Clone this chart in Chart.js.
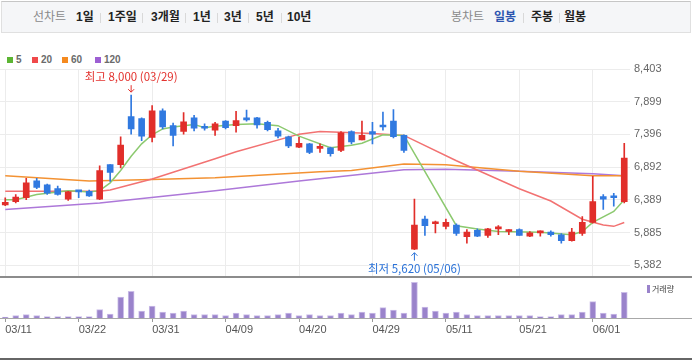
<!DOCTYPE html>
<html lang="ko">
<head>
    <meta charset="UTF-8">
    <title>일봉 차트</title>
    <style>
        body {
            margin: 0;
            width: 692px;
            height: 360px;
            position: relative;
            overflow: hidden;
            background: #fff;
            font-family: "Liberation Sans", "Noto Sans CJK KR", sans-serif;
        }

        .tabs {
            position: absolute;
            left: 1px;
            top: 1px;
            width: 688px;
            height: 30px;
            background: #f5f6f8;
            border: 1px solid #e0e0e0;
            border-top-color: #c6c6c6;
        }

        .tabs span {
            position: absolute;
            top: 7px;
            font-size: 12px;
            line-height: 16px;
            font-weight: bold;
            color: #222;
            white-space: nowrap;
        }

        .tabs span.off { color: #8a8a8a; font-weight: normal; }
        .tabs span.on { color: #2d55b0; }

        .tabs i {
            position: absolute;
            top: 11px;
            width: 1px;
            height: 10px;
            background: #d9d9d9;
        }

        .legend span {
            position: absolute;
            top: 54px;
            font-size: 10px;
            line-height: 12px;
            font-weight: bold;
            color: #6a6a6a;
        }

        .legend b {
            position: absolute;
            top: 57px;
            width: 6px;
            height: 6px;
        }

        canvas {
            position: absolute;
            left: 0;
            top: 0;
        }

        .rule { position: absolute; left: 0; width: 692px; }

        .vol-key {
            position: absolute;
            left: 647px;
            top: 285px;
            width: 3px;
            height: 8px;
            background: #9a83cb;
        }

        .vol-text {
            position: absolute;
            left: 652px;
            top: 283px;
            font-size: 8px;
            line-height: 12px;
            color: #444;
            font-family: "Noto Sans CJK KR", sans-serif;
        }
    </style>
</head>
<body>
    <div class="tabs">
        <span class="off" style="left:31px">선차트</span>
        <span style="left:74px">1일</span><i style="left:98px"></i>
        <span style="left:106px">1주일</span><i style="left:140px"></i>
        <span style="left:149px">3개월</span><i style="left:183px"></i>
        <span style="left:191px">1년</span><i style="left:215px"></i>
        <span style="left:222px">3년</span><i style="left:246px"></i>
        <span style="left:254px">5년</span><i style="left:279px"></i>
        <span style="left:285px">10년</span>
        <span class="off" style="left:449px">봉차트</span>
        <span class="on" style="left:492px">일봉</span><i style="left:521px"></i>
        <span style="left:529px">주봉</span><i style="left:557px"></i>
        <span style="left:562px">월봉</span>
    </div>

    <div class="legend">
        <b style="left:7px;background:#5cb533"></b><span style="left:16px">5</span>
        <b style="left:32px;background:#f0494a"></b><span style="left:41px">20</span>
        <b style="left:62px;background:#f58a1f"></b><span style="left:71px">60</span>
        <b style="left:95px;background:#9d5fd3"></b><span style="left:104px">120</span>
    </div>

    <canvas id="priceChart" width="692" height="360"></canvas>
    <canvas id="volumeChart" width="692" height="360"></canvas>

    <div class="rule" style="top:276px;height:2px;background:#8c8c8c"></div>
    <div class="rule" style="top:318px;height:1px;background:#a8a8a8"></div>
    <div class="rule" style="top:358px;height:2px;background:#666"></div>
    <div class="vol-key"></div>
    <div class="vol-text">거래량</div>

    <script src="https://cdn.jsdelivr.net/npm/chart.js"></script>
    <script>
        const dates = [
            '03/11', '03/12', '03/15', '03/16', '03/17', '03/18', '03/19', '03/22', '03/23', '03/24',
            '03/25', '03/26', '03/29', '03/30', '03/31', '04/01', '04/02', '04/05', '04/06', '04/07',
            '04/08', '04/09', '04/12', '04/13', '04/14', '04/15', '04/16', '04/19', '04/20', '04/21',
            '04/22', '04/23', '04/26', '04/27', '04/28', '04/29', '04/30', '05/03', '05/04', '05/06',
            '05/07', '05/10', '05/11', '05/12', '05/13', '05/14', '05/17', '05/18', '05/20', '05/21',
            '05/24', '05/25', '05/26', '05/27', '05/28', '05/31', '06/01', '06/02', '06/03', '06/04'
        ];
        const tickLabels = ['03/11', '03/22', '03/31', '04/09', '04/20', '04/29', '05/11', '05/21', '06/01'];
        const priceTicks = [8403, 7899, 7396, 6892, 6389, 5885, 5382];

        const opens = [
            6310, 6360, 6420, 6680, 6620, 6560, 6400, 6520, 6520, 6400,
            6930, 6930, 7670, 7640, 7350, 7760, 7530, 7440, 7650, 7500,
            7460, 7600, 7530, 7630, 7650, 7580, 7450, 7360, 7200, 7250,
            7180, 7190, 7150, 7440, 7310, 7440, 7520, 7600, 7380, 5630,
            6090, 6020, 5980, 6000, 5820, 5920, 5840, 5940, 5900, 5930,
            5830, 5880, 5890, 5850, 5760, 5870, 6040, 6440, 6450, 6360
        ];
        const highs = [
            6420, 6470, 6720, 6720, 6630, 6600, 6520, 6530, 6540, 6910,
            6930, 7360, 8000, 7650, 7840, 7790, 7570, 7730, 7690, 7560,
            7580, 7610, 7750, 7770, 7660, 7600, 7490, 7370, 7350, 7260,
            7250, 7200, 7440, 7450, 7600, 7580, 7740, 7780, 7390, 6400,
            6140, 6060, 6090, 6020, 5930, 5940, 5950, 5990, 5930, 5940,
            5900, 5910, 5910, 5870, 5950, 6130, 6750, 6470, 6490, 7260
        ];
        const lows = [
            6300, 6340, 6390, 6560, 6470, 6460, 6380, 6420, 6440, 6390,
            6670, 6880, 7400, 7300, 7280, 7480, 7220, 7400, 7450, 7460,
            7380, 7480, 7430, 7600, 7490, 7450, 7340, 7190, 7190, 7100,
            7120, 7060, 7130, 7250, 7310, 7250, 7460, 7340, 7120, 5620,
            5840, 5880, 5940, 5840, 5720, 5820, 5810, 5850, 5850, 5840,
            5820, 5830, 5830, 5720, 5750, 5840, 6030, 6240, 6290, 6340
        ];
        const closes = [
            6350, 6430, 6650, 6580, 6490, 6470, 6510, 6510, 6450, 6840,
            6810, 7230, 7480, 7370, 7760, 7510, 7380, 7590, 7490, 7490,
            7560, 7500, 7610, 7620, 7540, 7470, 7370, 7220, 7260, 7120,
            7190, 7100, 7420, 7280, 7380, 7400, 7510, 7360, 7150, 6000,
            5990, 6030, 6040, 5870, 5890, 5830, 5940, 5950, 5910, 5840,
            5880, 5890, 5850, 5760, 5890, 6040, 6360, 6400, 6420, 7030
        ];
        // volume in thousand shares
        const volumes = [
            30, 70, 100, 70, 40, 40, 40, 40, 40, 250,
            120, 630, 800, 210, 360, 180, 150, 210, 100, 100,
            100, 70, 150, 100, 70, 70, 100, 150, 70, 100,
            70, 70, 150, 100, 180, 150, 310, 240, 150, 1070,
            330, 210, 150, 180, 100, 70, 70, 70, 70, 70,
            70, 40, 40, 100, 100, 180, 490, 150, 120, 770
        ];

        // moving averages, read at the line's bends
        const ma5 = [
            ['03/11', 6390], ['03/12', 6390], ['03/16', 6470], ['03/17', 6490], ['03/19', 6530],
            ['03/22', 6520], ['03/23', 6510], ['03/24', 6530], ['03/25', 6650], ['03/26', 6840],
            ['03/29', 7060], ['03/30', 7250], ['03/31', 7390], ['04/01', 7480], ['04/02', 7510],
            ['04/06', 7550], ['04/07', 7500], ['04/08', 7520], ['04/12', 7550], ['04/14', 7560],
            ['04/16', 7530], ['04/20', 7370], ['04/23', 7190], ['04/27', 7230], ['04/28', 7260],
            ['04/30', 7390], ['05/04', 7380], ['05/12', 5990], ['05/14', 5940], ['05/18', 5900],
            ['05/25', 5890], ['05/28', 5850], ['05/31', 5900], ['06/01', 6040], ['06/03', 6210],
            ['06/04', 6390]
        ];
        const ma20 = [
            ['03/11', 6520], ['03/24', 6520], ['03/25', 6540], ['03/31', 6710], ['04/08', 7020],
            ['04/12', 7130], ['04/20', 7400], ['04/22', 7440], ['04/29', 7410], ['05/04', 7380],
            ['05/12', 6990], ['05/21', 6560], ['05/26', 6370], ['05/31', 6090], ['06/02', 6000],
            ['06/03', 5980], ['06/04', 6040]
        ];
        const ma60 = [
            ['03/11', 6760], ['03/23', 6680], ['03/31', 6700], ['04/08', 6730], ['04/22', 6820],
            ['04/27', 6840], ['05/04', 6940], ['05/11', 6930], ['05/21', 6830], ['06/01', 6760],
            ['06/04', 6760]
        ];
        const ma120 = [
            ['03/11', 6240], ['03/24', 6340], ['04/08', 6530], ['04/20', 6680], ['05/04', 6850],
            ['05/11', 6860], ['05/21', 6830], ['06/01', 6790], ['06/04', 6760]
        ];

        const UP = '#e12e2a';
        const DOWN = '#3079e0';
        const candleColors = opens.map((o, i) => closes[i] >= o ? UP : DOWN);
        const gridColor = '#ececec';
        const axisWidth = 62.5;

        const toPoints = list => list.map(([d, v]) => ({ x: d, y: v }));
        const isTick = ctx => tickLabels.includes(dates[ctx.index]);

        function maLine(label, list, color, order) {
            return {
                type: 'line',
                label: label,
                data: toPoints(list),
                borderColor: color,
                borderWidth: 1.5,
                pointRadius: 0,
                tension: 0,
                spanGaps: true,
                order: order
            };
        }

        function arrow(ctx, x, yFrom, yTo) {
            const dir = yTo > yFrom ? 1 : -1;
            ctx.beginPath();
            ctx.moveTo(x, yFrom);
            ctx.lineTo(x, yTo);
            ctx.moveTo(x - 3, yTo - dir * 3);
            ctx.lineTo(x, yTo);
            ctx.lineTo(x + 3, yTo - dir * 3);
            ctx.stroke();
        }

        // highest / lowest markers
        const peakLabels = {
            id: 'peakLabels',
            afterDatasetsDraw(chart) {
                const { ctx, scales: { x, y } } = chart;
                const hi = highs.indexOf(Math.max(...highs));
                const lo = lows.indexOf(Math.min(...lows));
                ctx.save();
                ctx.font = '11.5px "Noto Sans CJK KR", sans-serif';
                ctx.textAlign = 'center';
                ctx.textBaseline = 'middle';
                ctx.lineWidth = 1;

                let px = x.getPixelForValue(hi);
                let py = y.getPixelForValue(highs[hi]);
                ctx.fillStyle = ctx.strokeStyle = '#e3312d';
                ctx.fillText('최고 ' + highs[hi].toLocaleString('en-US') + ' (' + dates[hi] + ')', px, py - 19);
                arrow(ctx, px, py - 10, py - 3);

                px = x.getPixelForValue(lo);
                py = y.getPixelForValue(lows[lo]);
                ctx.fillStyle = ctx.strokeStyle = '#2a72d8';
                ctx.fillText('최저 ' + lows[lo].toLocaleString('en-US') + ' (' + dates[lo] + ')', px, py + 19);
                arrow(ctx, px, py + 11, py + 3);
                ctx.restore();
            }
        };

        new Chart(document.getElementById('priceChart'), {
            type: 'bar',
            data: {
                labels: dates,
                datasets: [
                    {
                        label: 'body',
                        data: opens.map((o, i) => [o, closes[i]]),
                        backgroundColor: candleColors,
                        barThickness: 6,
                        minBarLength: 2,
                        grouped: false,
                        order: 0
                    },
                    {
                        label: 'wick',
                        data: lows.map((l, i) => [l, highs[i]]),
                        backgroundColor: candleColors,
                        barThickness: 1,
                        grouped: false,
                        order: 1
                    },
                    maLine('5', ma5, '#8cc96f', 2),
                    maLine('20', ma20, '#f27272', 3),
                    maLine('60', ma60, '#f39233', 4),
                    maLine('120', ma120, '#ad78d9', 5)
                ]
            },
            options: {
                responsive: false,
                devicePixelRatio: 1,
                animation: false,
                layout: { padding: { top: 69, bottom: 83, left: 0, right: 0 } },
                plugins: { legend: { display: false }, tooltip: { enabled: false } },
                scales: {
                    x: {
                        grid: {
                            offset: false,
                            drawTicks: false,
                            color: ctx => isTick(ctx) ? gridColor : 'rgba(0,0,0,0)'
                        },
                        border: { display: false },
                        ticks: { display: false, autoSkip: false },
                        afterFit: scale => { scale.height = 0; }
                    },
                    y: {
                        position: 'right',
                        min: 5200,
                        max: 8403,
                        beginAtZero: false,
                        afterBuildTicks: scale => { scale.ticks = priceTicks.map(v => ({ value: v })); },
                        grid: { color: gridColor, drawTicks: false },
                        border: { display: false },
                        ticks: {
                            padding: 4.5,
                            color: '#666',
                            font: { size: 11, family: 'Liberation Sans' },
                            callback: v => v.toLocaleString('en-US')
                        },
                        afterFit: scale => { scale.width = axisWidth; }
                    }
                }
            },
            plugins: [peakLabels]
        });

        new Chart(document.getElementById('volumeChart'), {
            type: 'bar',
            data: {
                labels: dates,
                datasets: [{
                    label: '거래량',
                    data: volumes,
                    backgroundColor: '#9a83cb',
                    borderColor: '#cbbde8',
                    borderWidth: 1,
                    barThickness: 6
                }]
            },
            options: {
                responsive: false,
                devicePixelRatio: 1,
                animation: false,
                layout: { padding: { top: 278, bottom: 0, left: 0, right: 0 } },
                plugins: { legend: { display: false }, tooltip: { enabled: false } },
                scales: {
                    x: {
                        grid: {
                            offset: false,
                            drawOnChartArea: false,
                            tickLength: 4,
                            color: ctx => isTick(ctx) ? '#999' : 'rgba(0,0,0,0)'
                        },
                        border: { display: false },
                        ticks: {
                            autoSkip: false,
                            maxRotation: 0,
                            align: 'start',
                            padding: 1,
                            color: '#555',
                            font: { size: 11, family: 'Liberation Sans' },
                            callback: (v, i) => tickLabels.includes(dates[i]) ? dates[i] : ''
                        },
                        afterFit: scale => { scale.height = 42; }
                    },
                    y: {
                        position: 'right',
                        min: 0,
                        max: 1200,
                        grid: { display: false },
                        border: { display: false },
                        ticks: { display: false },
                        afterFit: scale => { scale.width = axisWidth; }
                    }
                }
            }
        });
    </script>
</body>
</html>
